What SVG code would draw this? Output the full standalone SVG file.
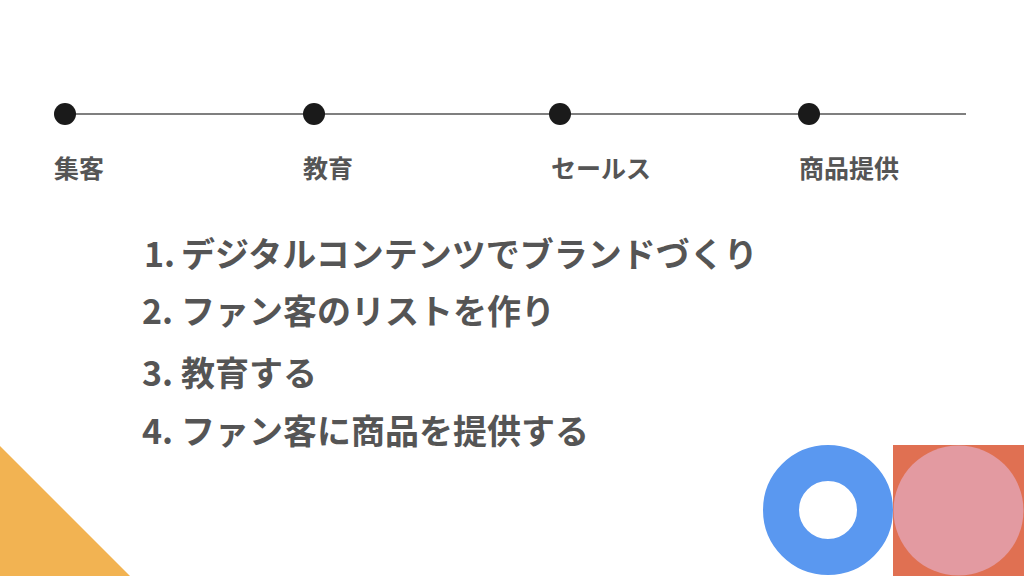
<svg xmlns="http://www.w3.org/2000/svg" width="1024" height="576" viewBox="0 0 1024 576">
<style>
.lbl{font-family:"Noto Sans CJK JP","Noto Sans",sans-serif;font-weight:700;font-size:25px;fill:#555555}
.item{font-family:"Noto Sans CJK JP","Noto Sans",sans-serif;font-weight:700;font-size:34px;fill:#555555}
.dot{fill:#1a1a1a}
</style>
<rect width="1024" height="576" fill="#ffffff"/>
<g id="connectors">
<line x1="65" y1="114" x2="966" y2="114" stroke="#555555" stroke-width="1.5"/>
</g>
<g id="node-shukyaku"><circle class="dot" cx="65" cy="114" r="11"/><text class="lbl" x="54" y="178">集客</text></g>
<g id="node-kyouiku"><circle class="dot" cx="314" cy="114" r="11"/><text class="lbl" x="303" y="178">教育</text></g>
<g id="node-sales"><circle class="dot" cx="560" cy="114" r="11"/><text class="lbl" x="551" y="178">セールス</text></g>
<g id="node-teikyou"><circle class="dot" cx="809" cy="114" r="11"/><text class="lbl" x="799" y="178">商品提供</text></g>
<g id="list">
<text class="item" y="267"><tspan x="144">1.</tspan><tspan x="181">デジタルコンテンツでブランドづくり</tspan></text>
<text class="item" y="324"><tspan x="142">2.</tspan><tspan x="181">ファン客のリストを作り</tspan></text>
<text class="item" y="386"><tspan x="142">3.</tspan><tspan x="181">教育する</tspan></text>
<text class="item" y="444"><tspan x="142">4.</tspan><tspan x="181">ファン客に商品を提供する</tspan></text>
</g>
<g id="decor">
<polygon points="0,446 130,576 0,576" fill="#F2B352"/>
<circle cx="828" cy="510" r="47" fill="none" stroke="#5A98F0" stroke-width="36"/>
<rect x="893" y="445" width="131" height="131" fill="#E07052"/>
<circle cx="958.5" cy="510.5" r="65" fill="#E39AA1"/>
</g>
</svg>
